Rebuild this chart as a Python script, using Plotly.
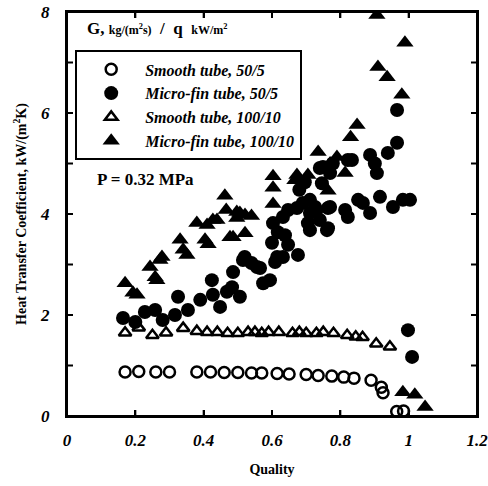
import plotly.graph_objects as go

# Smooth tube, 50/5 (open circles)
s50_x = [0.17,0.21,0.26,0.30,0.38,0.42,0.46,0.50,0.54,0.57,0.615,0.65,0.70,0.735,0.775,0.81,0.84,0.89,0.92,0.925,0.965,0.985]
s50_y = [0.87,0.88,0.87,0.87,0.87,0.87,0.86,0.86,0.85,0.85,0.84,0.83,0.82,0.80,0.79,0.77,0.75,0.71,0.57,0.46,0.09,0.10]

# Micro-fin tube, 50/5 (filled circles)
m50_x = [0.164,0.20,0.228,0.258,0.28,0.316,0.325,0.354,0.39,0.424,0.427,0.448,0.468,0.483,0.486,0.506,0.515,0.52,0.54,0.556,
         0.565,0.574,0.594,0.609,0.60,0.615,0.617,0.603,0.632,0.638,0.647,0.632,0.647,0.673,0.676,0.68,0.69,0.696,0.705,0.711,
         0.711,0.711,0.726,0.73,0.74,0.74,0.746,0.749,0.761,0.764,0.764,0.77,0.77,0.778,0.814,0.822,0.822,0.834,0.852,0.866,
         0.887,0.887,0.901,0.907,0.916,0.939,0.954,0.966,0.966,0.983,1.004,0.998,1.01]
m50_y = [1.94,1.86,2.06,2.10,1.90,2.00,2.36,2.10,2.30,2.69,2.40,2.16,2.46,2.55,2.85,2.36,3.09,3.15,3.03,2.95,
         2.93,2.63,2.69,3.05,3.43,3.15,3.64,3.82,3.15,3.58,3.39,3.94,4.08,4.12,3.19,4.48,4.22,4.63,3.82,3.68,
         4.28,4.02,4.14,4.08,3.88,4.91,4.61,4.93,3.68,4.12,3.72,4.81,4.14,5.00,4.08,3.94,5.07,5.07,4.28,4.22,
         5.17,4.02,5.00,4.81,4.34,5.21,4.14,5.41,6.06,4.28,4.28,1.70,1.17]

# Smooth tube, 100/10 (open triangles)
s100_x = [0.17,0.21,0.25,0.29,0.34,0.38,0.41,0.44,0.47,0.50,0.53,0.55,0.57,0.59,0.62,0.66,0.68,0.70,0.73,0.75,0.78,0.82,0.845,0.865,0.905,0.945]
s100_y = [1.65,1.75,1.60,1.65,1.74,1.68,1.66,1.66,1.64,1.64,1.66,1.66,1.64,1.66,1.66,1.64,1.66,1.64,1.64,1.66,1.64,1.60,1.57,1.56,1.43,1.37]

# Micro-fin tube, 100/10 (filled triangles)
m100_x = [0.17,0.193,0.205,0.243,0.258,0.263,0.272,0.278,0.331,0.34,0.351,0.38,0.404,0.41,0.413,0.427,0.439,0.462,0.466,0.477,
          0.486,0.497,0.497,0.506,0.521,0.521,0.54,0.603,0.603,0.603,0.667,0.673,0.705,0.735,0.764,0.77,0.79,0.814,0.83,0.849,
          0.907,0.91,0.937,0.98,0.989,0.983,1.018,1.048]
m100_y = [2.63,2.44,2.40,2.95,2.75,2.69,3.09,3.15,3.49,3.29,3.19,3.82,3.49,3.78,3.40,3.88,3.88,4.36,4.08,3.54,
          3.54,3.92,4.04,4.02,3.98,3.62,3.96,4.75,4.52,4.20,4.67,4.77,4.77,5.23,4.46,5.00,5.13,4.81,5.52,5.76,
          7.94,6.91,6.71,6.36,7.39,0.47,0.42,0.18]

x_range = [0, 1.2]
y_range = [0, 8]
x_ticks = [0, 0.2, 0.4, 0.6, 0.8, 1.0, 1.2]
x_ticktext = ["0", "0.2", "0.4", "0.6", "0.8", "1", "1.2"]
y_ticks = [0, 2, 4, 6, 8]
y_ticktext = ["0", "2", "4", "6", "8"]
y_all_ticks = [0, 1, 2, 3, 4, 5, 6, 7, 8]
series_names = ["Smooth tube, 50/5", "Micro-fin tube, 50/5", "Smooth tube, 100/10", "Micro-fin tube, 100/10"]

serif = "Liberation Serif"

def bi(s):
    return "<b><i>" + s + "</i></b>"

fig = go.Figure()
fig.add_trace(go.Scatter(x=s50_x, y=s50_y, mode="markers", name=bi(series_names[0]),
                         marker=dict(symbol="circle-open", size=11, color="black", line=dict(width=2.5))))
fig.add_trace(go.Scatter(x=m50_x, y=m50_y, mode="markers", name=bi(series_names[1]),
                         marker=dict(symbol="circle", size=14, color="black")))
fig.add_trace(go.Scatter(x=s100_x, y=s100_y, mode="markers", name=bi(series_names[2]),
                         marker=dict(symbol="triangle-up-open", size=11, color="black", line=dict(width=2.5))))
fig.add_trace(go.Scatter(x=m100_x, y=m100_y, mode="markers", name=bi(series_names[3]),
                         marker=dict(symbol="triangle-up", size=15, color="black")))

# Frame and tick marks as line traces (tick length ~6 px expressed in axis units)
xt_len = (y_range[1] - y_range[0]) * 6 / 404.0
yt_len = (x_range[1] - x_range[0]) * 6 / 410.0
fx = [x_range[0], x_range[1], x_range[1], x_range[0], x_range[0], None]
fy = [y_range[0], y_range[0], y_range[1], y_range[1], y_range[0], None]
for v in x_ticks:
    fx += [v, v, None, v, v, None]
    fy += [y_range[0], y_range[0] + xt_len, None, y_range[1], y_range[1] - xt_len, None]
for v in y_all_ticks:
    fx += [x_range[0], x_range[0] + yt_len, None, x_range[1], x_range[1] - yt_len, None]
    fy += [v, v, None, v, v, None]
fig.add_trace(go.Scatter(x=fx, y=fy, mode="lines", line=dict(color="black", width=2),
                         showlegend=False, hoverinfo="skip", cliponaxis=False, connectgaps=False))

tickfont = dict(family=serif, size=17, color="black")

xaxis = dict(range=x_range, tickmode="array", tickvals=x_ticks, ticktext=[bi(t) for t in x_ticktext],
             showline=True, linewidth=2, linecolor="black", mirror="ticks",
             ticks="inside", ticklen=6, tickwidth=2, tickcolor="black", ticklabelstandoff=8,
             showgrid=False, zeroline=False, automargin=False, ticklabeloverflow="allow",
             tickfont=tickfont,
             title=dict(text="<b>Quality</b>", font=dict(family=serif, size=14, color="black"), standoff=15))
yaxis = dict(range=y_range, tickmode="array", tickvals=y_ticks, ticktext=[bi(t) for t in y_ticktext],
             showline=True, linewidth=2, linecolor="black", mirror="ticks",
             ticks="inside", ticklen=6, tickwidth=2, tickcolor="black", ticklabelstandoff=12,
             showgrid=False, zeroline=False, automargin=False, ticklabeloverflow="allow",
             tickfont=tickfont,
             title=dict(text="<b>Heat Transfer Coefficient, kW/(m<sup>2</sup>K)</b>",
                        font=dict(family=serif, size=14, color="black"), standoff=10))

fig.add_annotation(x=0.045, y=0.96, xref="paper", yref="paper", xanchor="left", yanchor="middle",
                   text="<b>G, <span style='font-size:12px'>kg/(m<sup>2</sup>s)</span>  /  q  <span style='font-size:12px'>kW/m<sup>2</sup></span></b>",
                   showarrow=False, font=dict(family=serif, size=17, color="black"))
fig.add_annotation(x=0.068, y=0.585, xref="paper", yref="paper", xanchor="left", yanchor="middle",
                   text="<b>P = 0.32 MPa</b>", showarrow=False,
                   font=dict(family=serif, size=17, color="black"))

fig.update_layout(
    width=488, height=486,
    margin=dict(l=67, r=11, t=12, b=70, autoexpand=False),
    paper_bgcolor="white", plot_bgcolor="white",
    xaxis=xaxis, yaxis=yaxis,
    showlegend=True,
    legend=dict(x=0.02, y=0.905, xanchor="left", yanchor="top",
                bordercolor="black", borderwidth=2, bgcolor="white",
                font=dict(family=serif, size=16, color="black"),
                itemsizing="trace", itemwidth=58),
)

fig.write_html("out.html", config={"displayModeBar": False},
               post_script="document.body.style.margin='0px';")
